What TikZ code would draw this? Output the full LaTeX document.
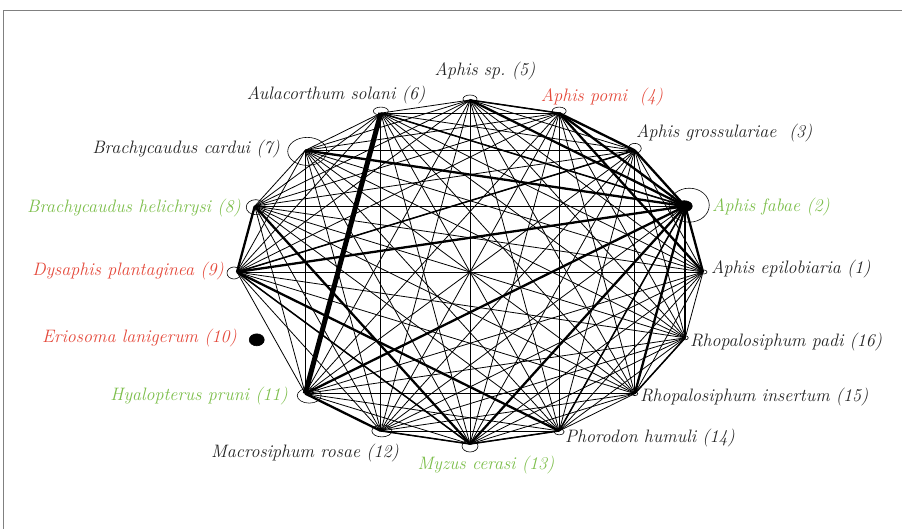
\documentclass[tikz,border=0pt]{standalone}
\usepackage{tikz}
\usetikzlibrary{shapes.geometric,positioning}
\definecolor{aphidgreen}{RGB}{124,190,74}
\definecolor{aphidred}{RGB}{228,72,58}
\definecolor{inkgray}{RGB}{34,34,34}

\begin{document}
\begin{tikzpicture}[x=1pt, y=-1pt,
    vtx/.style={ellipse, draw, inner sep=0pt, line width=0.6pt},
    lnk/.style={line width=0.8pt},
    lnkmid/.style={line width=1.5pt},
    lnkthick/.style={line width=2.3pt},
    lnkheavy/.style={line width=5pt},
    tag/.style={font=\fontsize{18}{20}\selectfont\itshape, inner sep=0pt, text=inkgray}]
    \useasboundingbox (0,0) rectangle (902,529);
    \draw[gray, line width=0.8pt] (902,10.5) -- (3.5,10.5) -- (3.5,529);
    % vertices on the ring
    \foreach \i in {1,...,16}
      \coordinate (v\i) at ({470+233*cos((\i-1)*22.5)},{272-172*sin((\i-1)*22.5)});
    % markers
    \foreach \i/\dx/\dy/\w/\h in {1/1/0/6/4, 3/0/-2/13/10, 4/0/-2/14/8, 5/0/-1/14/8,
        6/0/-2/15/8, 8/1/1/19/15, 9/-3/1/14/12, 11/4/2/24/15, 12/1/0/20/12,
        13/0/2/16/12, 14/0/1/10/6, 15/0/0/6/4, 16/0/0/6/4}
      \node[vtx, minimum width=\w pt, minimum height=\h pt] (m\i) at ([shift={(\dx,\dy)}]v\i) {};
    \node[vtx, fill=black, minimum width=16pt, minimum height=11pt] (m2) at ([shift={(-1,0)}]v2) {};
    \node[vtx, minimum width=40pt, minimum height=34pt] (loop2) at ([shift={(4,-1)}]v2) {};
    \node[vtx, minimum width=39pt, minimum height=28pt] (m7) at ([shift={(2,1)}]v7) {};
    \node[vtx, fill=black, minimum width=15pt, minimum height=12pt] (m10) at ([shift={(2,2)}]v10) {};
    % all links
    \foreach \i in {1,...,15}{
      \pgfmathtruncatemacro{\jstart}{\i+1}
      \foreach \j in {\jstart,...,16}{
        \ifnum\i=10\relax\else\ifnum\j=10\relax\else
          \draw[lnk] (v\i) -- (v\j);
        \fi\fi
      }
    }
    % stronger links
    \foreach \a/\b in {2/6, 9/13, 3/9, 12/13, 13/14, 2/14, 15/16, 4/5}
      \draw[lnkmid] (v\a) -- (v\b);
    \foreach \a/\b in {2/7, 2/5, 2/9, 2/11, 8/13, 9/14, 1/2, 2/16, 2/15, 8/9, 11/12, 2/4, 2/13, 3/4, 2/3, 1/4}
      \draw[lnkthick] (v\a) -- (v\b);
    \draw[lnkheavy] (v6) -- (v11);
    % labels
    \node[tag, anchor=west] (l1) at (711,269) {Aphis epilobiaria (1)};
    \node[tag, anchor=west, text=aphidgreen] (l2) at (712,207) {Aphis fabae (2)};
    \node[tag, anchor=west] (l3) at (636,133) {Aphis grossulariae~ (3)};
    \node[tag, text=aphidred] (l4) at (602,97) {Aphis pomi~ (4)};
    \node[tag] (l5) at (485,71) {Aphis sp.\ (5)};
    \node[tag] (l6) at (336,95) {Aulacorthum solani (6)};
    \node[tag, anchor=east] (l7) at (280,149) {Brachycaudus cardui (7)};
    \node[tag, anchor=east, text=aphidgreen] (l8) at (241,208) {Brachycaudus helichrysi (8)};
    \node[tag, anchor=east, text=aphidred] (l9) at (224,271) {Dysaphis plantaginea (9)};
    \node[tag, anchor=east, text=aphidred] (l10) at (237,338) {Eriosoma lanigerum (10)};
    \node[tag, anchor=east, text=aphidgreen] (l11) at (288,396) {Hyalopterus pruni (11)};
    \node[tag] (l12) at (305,453) {Macrosiphum rosae (12)};
    \node[tag, text=aphidgreen] (l13) at (486,465) {Myzus cerasi (13)};
    \node[tag, anchor=west] (l14) at (565,438) {Phorodon humuli (14)};
    \node[tag, anchor=west] (l15) at (640,397) {Rhopalosiphum insertum (15)};
    \node[tag, anchor=west] (l16) at (690,342) {Rhopalosiphum padi (16)};
\end{tikzpicture}
\end{document}
